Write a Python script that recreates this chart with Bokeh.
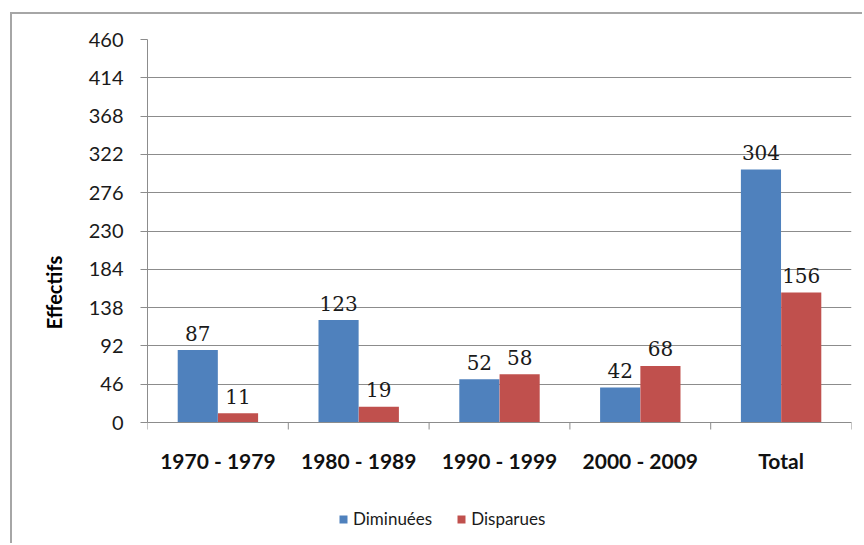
import numpy as np
from bokeh.plotting import figure
from bokeh.models import (Range1d, LinearAxis, FixedTicker,
                          ColumnDataSource, Legend, LegendItem)
from bokeh.core.properties import value
from bokeh.embed import file_html
from bokeh.resources import INLINE

categories = ["1970 - 1979", "1980 - 1989", "1990 - 1999", "2000 - 2009", "Total"]
diminuees = [87, 123, 52, 42, 304]
disparues = [11, 19, 58, 68, 156]
y_ticks = [0, 46, 92, 138, 184, 230, 276, 322, 368, 414, 460]

BLUE = "#4F81BD"
RED = "#C0504D"
GRID = "#8c8c8c"

# layout (pixels)
W, H = 852, 531
LEFT, RIGHT, TOP = 135, 13, 25
VALUE_PX = 383            # pixel height from 0 to the top tick
frame_h = H - TOP
y_top = y_ticks[-1]
y_start = -(frame_h - VALUE_PX) * y_top / VALUE_PX

idx = np.arange(len(categories))
centers = idx + 0.5
boundaries = np.arange(len(categories) + 1)
off = 0.143
bw = 0.285

src = ColumnDataSource(data=dict(
    xd=centers - off, xr=centers + off, xc=centers, cat=categories,
    zero=np.zeros(len(categories)), dim=diminuees, dis=disparues,
    dim_t=[str(v) for v in diminuees], dis_t=[str(v) for v in disparues],
))

p = figure(width=W, height=H, x_range=Range1d(0, len(categories)),
           y_range=Range1d(y_start, y_top), output_backend="svg", toolbar_location=None,
           x_axis_location=None, y_axis_location=None,
           min_border_left=LEFT, min_border_right=RIGHT, min_border_top=TOP, min_border_bottom=0)
p.outline_line_color = None
p.background_fill_color = "white"
p.border_fill_color = "white"
p.styles = {"margin-left": "10px", "margin-top": "12px",
            "border-left": "2px solid #a6a6a6", "border-top": "2px solid #a6a6a6"}

p.ygrid.ticker = FixedTicker(ticks=y_ticks)
p.ygrid.grid_line_color = GRID
p.ygrid.grid_line_width = 1
p.xgrid.grid_line_color = None

r1 = p.vbar(x="xd", top="dim", width=bw, source=src, fill_color=BLUE, line_color=None)
r2 = p.vbar(x="xr", top="dis", width=bw, source=src, fill_color=RED, line_color=None)

# category axis: line at zero, ticks at category boundaries, labels at centres
p.segment(x0=[boundaries[0]], y0=[0], x1=[boundaries[-1]], y1=[0], line_color=GRID, line_width=1)
p.ray(x=boundaries, y=np.zeros(len(boundaries)), length=7, length_units="screen",
      angle=-np.pi / 2, line_color=GRID, line_width=1)
p.text(x="xc", y="zero", text="cat", source=src, text_align="center", text_baseline="middle",
       y_offset=38, text_font=value("Lato"), text_font_style="bold",
       text_font_size="21px", text_color="#111111")

lab_font = value("DejaVu Serif")
p.text(x="xd", y="dim", text="dim_t", source=src,
       text_align="center", text_baseline="alphabetic", y_offset=-17,
       text_font=lab_font, text_font_size="20px", text_color="#1a1a1a")
p.text(x="xr", y="dis", text="dis_t", source=src,
       text_align="center", text_baseline="alphabetic", y_offset=-17,
       text_font=lab_font, text_font_size="20px", text_color="#1a1a1a")

# y axis
yax = LinearAxis(ticker=FixedTicker(ticks=y_ticks), bounds=(y_ticks[0], y_ticks[-1]))
yax.axis_line_color = GRID
yax.major_tick_line_color = GRID
yax.major_tick_in = 0
yax.major_tick_out = 7
yax.minor_tick_line_color = None
yax.major_label_standoff = 17
yax.major_label_text_font = "Lato"
yax.major_label_text_font_size = "20px"
yax.major_label_text_color = "#1a1a1a"
yax.axis_label = "Effectifs"
yax.axis_label_text_font = "Lato"
yax.axis_label_text_font_style = "bold"
yax.axis_label_text_font_size = "20px"
yax.axis_label_text_color = "#000000"
yax.axis_label_standoff = 20
p.add_layout(yax, "left")

legend = Legend(items=[LegendItem(label="Diminuées", renderers=[r1]),
                       LegendItem(label="Disparues", renderers=[r2])],
                orientation="horizontal", location=(191, 16))
legend.border_line_color = None
legend.background_fill_alpha = 0
legend.glyph_width = 10
legend.glyph_height = 10
legend.label_text_font = "Lato"
legend.label_text_font_size = "17px"
legend.label_text_color = "#1a1a1a"
legend.spacing = 24
legend.padding = 0
legend.margin = 0
legend.label_standoff = 5
p.add_layout(legend, "center")

open("out.html", "w").write(file_html(p, INLINE))
